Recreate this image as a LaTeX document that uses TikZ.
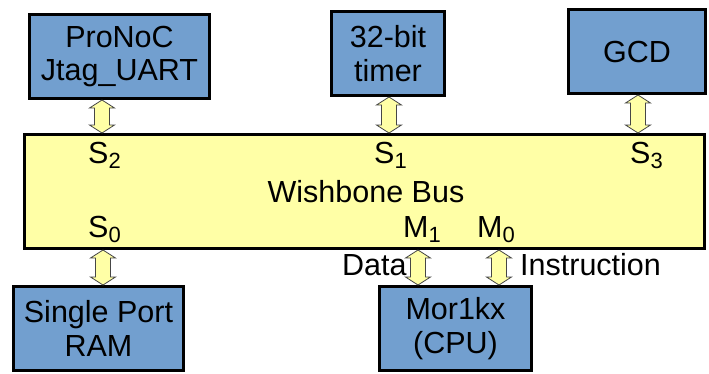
\documentclass[tikz,border=0pt]{standalone}
\usepackage{fontspec}
\setmainfont{Liberation Sans}
\usetikzlibrary{calc}
\definecolor{boxblue}{RGB}{114,159,207}
\definecolor{busyellow}{RGB}{255,255,166}
\definecolor{arrowline}{RGB}{70,70,70}
\newcommand\portsub[1]{\raisebox{-5pt}{\fontsize{22}{22}\selectfont #1}}
\newcommand\dblarrow[2]{%
  \path[blockarr] let \p1=#1, \p2=#2 in
  (\x1,\y1) -- (\x1+12.5pt,\y1-8pt) -- (\x1+7.5pt,\y1-8pt) -- (\x1+7.5pt,\y2+8pt)
  -- (\x1+12.5pt,\y2+8pt) -- (\x1,\y2) -- (\x1-12.5pt,\y2+8pt) -- (\x1-7.5pt,\y2+8pt)
  -- (\x1-7.5pt,\y1-8pt) -- (\x1-12.5pt,\y1-8pt) -- cycle;}
\tikzset{
  unit/.style={draw=black, line width=3pt, fill=boxblue, inner sep=0pt, align=center,
    font=\fontsize{30.5}{33.5}\selectfont},
  busbox/.style={draw=black, line width=3pt, fill=busyellow, inner sep=0pt},
  lbl/.style={inner sep=0pt, font=\fontsize{30.5}{33.5}\selectfont},
  blockarr/.style={fill=busyellow, draw=arrowline, line width=0.8pt, line join=miter}
}
\begin{document}
\begin{tikzpicture}[x=1pt,y=-1pt]
\useasboundingbox (0,0) rectangle (709,373);
\node[unit, minimum width=180, minimum height=84] (pronoc) at (119.5,56.5) {ProNoC\\Jtag\_UART};
\node[unit, minimum width=113, minimum height=84] (timer) at (388,53.5) {32-bit\\timer};
\node[unit, minimum width=137, minimum height=84] (gcd) at (637,51.5) {GCD};
\node[busbox, minimum width=680, minimum height=114] (bus) at (364.5,191.5) {};
\node[unit, minimum width=170, minimum height=84] (ram) at (98.5,328.5) {Single Port\\RAM};
\node[unit, minimum width=152, minimum height=84] (cpu) at (455.5,328.5) {Mor1kx\\(CPU)};

\node[lbl, anchor=base west] (s2) at (88,163) {S\portsub{2}};
\node[lbl, anchor=base west] (s1) at (374,163) {S\portsub{1}};
\node[lbl, anchor=base west] (s3) at (630,163) {S\portsub{3}};
\node[lbl, anchor=base] (wb) at (366,202) {Wishbone Bus};
\node[lbl, anchor=base west] (s0) at (88,237) {S\portsub{0}};
\node[lbl, anchor=base west] (m1) at (403,237) {M\portsub{1}};
\node[lbl, anchor=base west] (m0) at (477,237) {M\portsub{0}};
\node[lbl, anchor=base west] (data) at (342,275) {Data};
\node[lbl, anchor=base west] (instr) at (520,275) {Instruction};

\coordinate (x2) at (102,0);
\coordinate (x1) at (389,0);
\coordinate (x3) at (638,0);
\coordinate (x0) at (103,0);
\coordinate (xm1) at (418,0);
\coordinate (xm0) at (499,0);

\dblarrow{(pronoc.south -| x2)}{(bus.north -| x2)}
\dblarrow{(timer.south -| x1)}{(bus.north -| x1)}
\dblarrow{(gcd.south -| x3)}{(bus.north -| x3)}
\dblarrow{(bus.south -| x0)}{(ram.north -| x0)}
\dblarrow{(bus.south -| xm1)}{(cpu.north -| xm1)}
\dblarrow{(bus.south -| xm0)}{(cpu.north -| xm0)}
\end{tikzpicture}
\end{document}
